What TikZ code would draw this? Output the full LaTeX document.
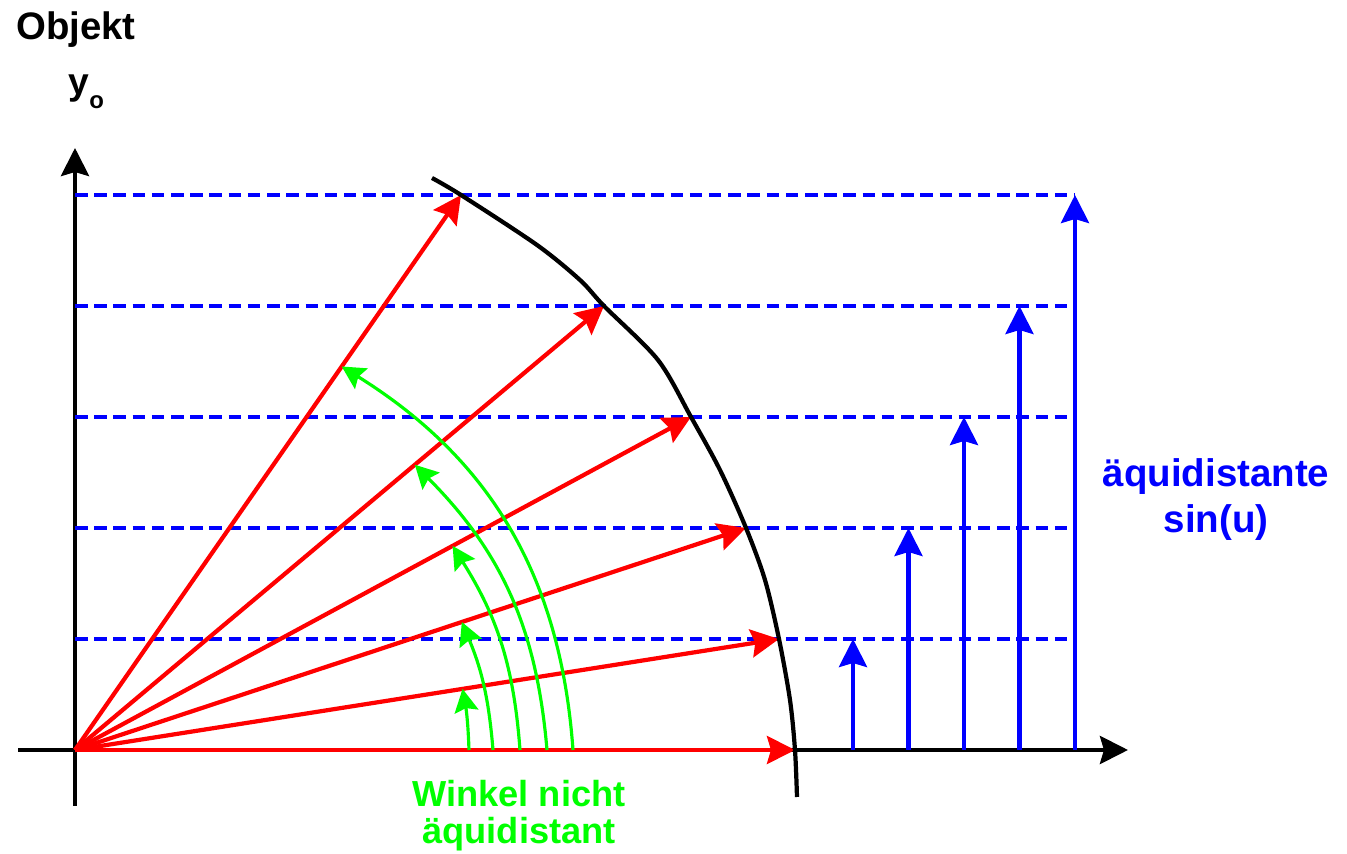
\documentclass[tikz,border=0pt]{standalone}
\usepackage{fontspec}
\setmainfont{Liberation Sans}
\usetikzlibrary{arrows.meta,calc}
\definecolor{rot}{HTML}{FF0000}
\definecolor{blau}{HTML}{0000FF}
\definecolor{gruen}{HTML}{00FF00}

\begin{document}
\begin{tikzpicture}[x=0.01cm,y=0.01cm,
  spitze/.tip={Stealth[length=0.28cm,width=0.28cm,inset=0.04cm]},
  achse/.style={line width=1.2pt,-spitze},
  strahl/.style={rot,line width=1.2pt,-spitze},
  stufe/.style={blau,line width=1.2pt,dash pattern=on 0.125cm off 0.067cm},
  hoehe/.style={blau,line width=1.2pt,-spitze},
  winkel/.style={gruen,line width=0.9pt,-{Stealth[length=0.23cm,width=0.24cm,inset=0.035cm]}}]
\useasboundingbox (0,0) rectangle (1347,854);

\coordinate (O) at (75,104);
\coordinate (yu) at (75,48);
\coordinate (yt) at (75,706);
\coordinate (xl) at (18,104);
\coordinate (xr) at (1128,104);
\foreach \k/\x in {0/795,1/779,2/746,3/691,4/604,5/461} \coordinate (p\k) at (\x,104+111*\k);
\foreach \k in {1,...,5} \coordinate (b\k) at (797.5+55.5*\k,104);

% Achsen
\draw[achse] (yu) -- (yt);
\draw[achse] (xl) -- (xr);

% sin-Stufen
\foreach \k in {1,...,5} \draw[stufe] (O |- p\k) -- (b5 |- p\k);

% Strahlen und Kreisbogen
\foreach \k in {0,...,5} \draw[strahl] (O) -- (p\k);
\draw[line width=1.2pt] plot[smooth,tension=0.5] coordinates {(432,676) (461,659) (537,609) (580,574) (604,548) (658,494) (691,437) (720,384) (746,326) (765,274) (779,215) (790,154) (795,104) (797,57)};

% Winkel
\foreach \k/\r/\t/\b in {1/394/0.5505/4,2/418/0.5765/9,3/445/0.613/14,4/472/0.6424/20,5/498/0.691/27} {
 \coordinate (w\k) at ($(O)+(\r,0)$);
 \draw[winkel] (w\k) to[bend right=\b] ($(O)!\t!(p\k)$);
}

% Hoehen
\foreach \k in {1,...,5} \draw[hoehe] (b\k) -- (b\k |- p\k);

\node[anchor=base,font=\bfseries\fontsize{10.9}{13}\selectfont] (objekt) at (76,814) {Objekt};
\node[anchor=base west,inner sep=0pt,font=\bfseries\fontsize{10.6}{13}\selectfont] (ylabel) at (68,759) {y\raisebox{-0.37em}{\fontsize{6.8}{8}\selectfont o}};
\node[gruen,align=center,inner sep=0pt,font=\bfseries\fontsize{10.3}{10.6}\selectfont] (winkeltext) at (519,38) {Winkel nicht\\äquidistant};
\node[blau,align=center,inner sep=0pt,font=\bfseries\fontsize{10.95}{13.1}\selectfont] (sintext) at (1216,354) {äquidistante\\sin(u)};

\end{tikzpicture}
\end{document}
